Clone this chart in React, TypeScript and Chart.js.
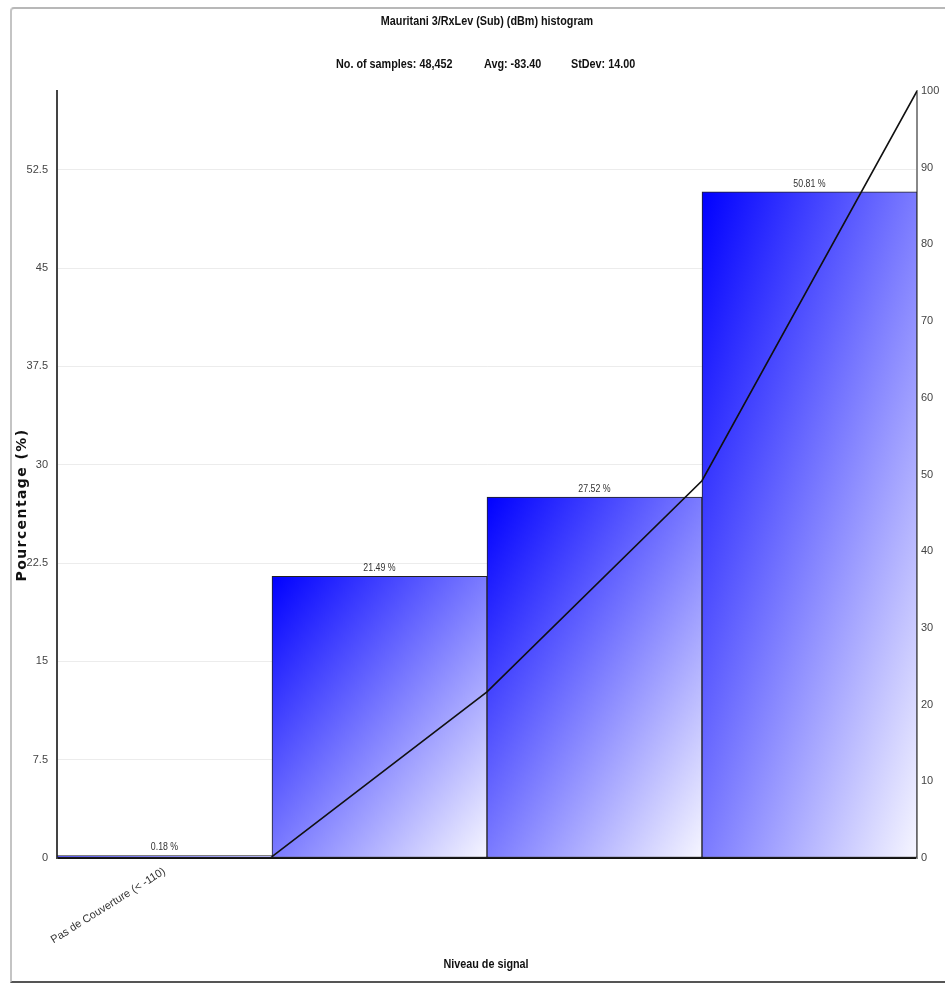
import React, { useEffect, useRef } from "react";
import { Chart, registerables } from "chart.js";

Chart.register(...registerables);

const categories = ["Pas de Couverture (< -110)", "", "", ""];
const percentages = [0.18, 21.49, 27.52, 50.81];
const barLabels = ["0.18 %", "21.49 %", "27.52 %", "50.81 %"];
const cumulativeX = [1, 2, 3, 4];
const cumulativeY = [0.18, 21.67, 49.19, 100];
const leftTicksStep = 7.5;
const leftMax = 58.5;
const rightTicksStep = 10;

const titleText = "Mauritani 3/RxLev (Sub) (dBm) histogram";
const statsTexts = ["No. of samples: 48,452", "Avg: -83.40", "StDev: 14.00"];
const yTitle = "Pourcentage (%)";
const xTitle = "Niveau de signal";

const SANS = "'Liberation Sans', Arial, sans-serif";

export default function App() {
  const ref = useRef<HTMLCanvasElement | null>(null);

  useEffect(() => {
    const canvas = ref.current;
    if (!canvas) return;

    const drawNarrow = (ctx: any, text: string, x: number, y: number, align: string, sx: number) => {
      ctx.save();
      ctx.translate(x, y);
      ctx.scale(sx, 1);
      ctx.textAlign = align;
      ctx.fillText(text, 0, 0);
      ctx.restore();
    };

    const textPlugin = {
      id: "texts",
      afterDatasetsDraw(chart: any) {
        const ctx = chart.ctx;
        const xs = chart.scales.x;
        const ys = chart.scales.y;
        ctx.save();
        ctx.font = `10px ${SANS}`;
        ctx.fillStyle = "#333";
        ctx.textBaseline = "bottom";
        percentages.forEach((v, i) => {
          const x = xs.getPixelForValue(i);
          const y = ys.getPixelForValue(v);
          drawNarrow(ctx, barLabels[i], x, y - 3, "center", 0.88);
        });
        ctx.restore();
      },
      afterDraw(chart: any) {
        const ctx = chart.ctx;
        ctx.save();
        ctx.fillStyle = "#111";
        ctx.textBaseline = "middle";
        ctx.font = `bold 12px ${SANS}`;
        drawNarrow(ctx, titleText, 487, 22, "center", 0.9);
        drawNarrow(ctx, statsTexts[0], 336, 65, "left", 0.9);
        drawNarrow(ctx, statsTexts[1], 484, 65, "left", 0.9);
        drawNarrow(ctx, statsTexts[2], 571, 65, "left", 0.9);
        drawNarrow(ctx, xTitle, 486, 965, "center", 0.9);
        ctx.translate(22, 505);
        ctx.rotate(-Math.PI / 2);
        ctx.font = `bold 14px 'DejaVu Sans', sans-serif`;
        ctx.letterSpacing = "1.4px";
        ctx.textAlign = "center";
        ctx.fillText(yTitle, 0, 0);
        ctx.restore();
      },
    };

    const barBg = (c: any) => {
      const chart = c.chart;
      const xs = chart.scales.x;
      const ys = chart.scales.y;
      if (!chart.chartArea || !xs || !ys || c.type !== "data") return "#4444ff";
      const i = c.dataIndex;
      const half = (xs.right - xs.left) / categories.length / 2;
      const cx = xs.getPixelForValue(i);
      const top = ys.getPixelForValue(percentages[i]);
      const bottom = ys.getPixelForValue(0);
      const left = cx - half;
      const w = Math.max(1, Math.round(half * 2));
      const h = Math.max(1, Math.round(bottom - top));
      const off = document.createElement("canvas");
      off.width = w;
      off.height = h;
      const octx = off.getContext("2d") as CanvasRenderingContext2D;
      octx.setTransform(w, 0, 0, h, 0, 0);
      const g = octx.createLinearGradient(0, 0, 1, 1);
      g.addColorStop(0, "#0000ff");
      g.addColorStop(1, "#f6f6ff");
      octx.fillStyle = g;
      octx.fillRect(0, 0, 1, 1);
      const pat = chart.ctx.createPattern(off, "no-repeat") as CanvasPattern;
      pat.setTransform(new DOMMatrix([1, 0, 0, 1, left, top]));
      return pat;
    };

    const chart = new Chart(canvas, {
      type: "bar",
      data: {
        labels: categories,
        datasets: [
          {
            type: "line",
            data: cumulativeX.map((x, i) => ({ x, y: cumulativeY[i] })),
            xAxisID: "x2",
            yAxisID: "y1",
            borderColor: "#111",
            borderWidth: 1.6,
            pointRadius: 0,
            tension: 0,
            order: 0,
          } as any,
          {
            type: "bar",
            data: percentages,
            xAxisID: "x",
            yAxisID: "y",
            backgroundColor: barBg,
            borderColor: "#222",
            borderWidth: 1,
            borderSkipped: false,
            barPercentage: 1,
            categoryPercentage: 1,
            grouped: false,
            order: 1,
          } as any,
        ],
      },
      options: {
        responsive: false,
        animation: false,
        layout: { padding: { top: 91, left: 0, right: 0, bottom: 0 } },
        plugins: {
          legend: { display: false },
          tooltip: { enabled: false },
          title: { display: false },
        },
        scales: {
          x: {
            type: "category",
            offset: true,
            grid: { display: false, drawTicks: false },
            border: { display: true, color: "#111", width: 2 },
            ticks: {
              color: "#333",
              font: { family: SANS, size: 11 },
              minRotation: 32,
              maxRotation: 32,
              padding: 7,
              autoSkip: false,
            },
            afterFit: (s: any) => {
              s.height = 128;
            },
          },
          x2: {
            type: "linear",
            min: 0,
            max: 4,
            offset: false,
            display: false,
          },
          y: {
            type: "linear",
            position: "left",
            min: 0,
            max: leftMax,
            z: 1,
            ticks: {
              stepSize: leftTicksStep,
              color: "#444",
              font: { family: SANS, size: 11 },
              padding: 9,
            },
            afterBuildTicks: (s: any) => {
              s.ticks = s.ticks.filter((t: any) => {
                const r = t.value / leftTicksStep;
                return Math.abs(r - Math.round(r)) < 1e-6;
              });
            },
            grid: { color: "rgba(200,200,200,0.35)", drawTicks: false },
            border: { display: true, color: "#444", width: 2 },
            afterFit: (s: any) => {
              s.width = 57;
            },
          },
          y1: {
            type: "linear",
            position: "right",
            min: 0,
            max: 100,
            ticks: {
              stepSize: rightTicksStep,
              color: "#444",
              font: { family: SANS, size: 11 },
              padding: 4,
            },
            grid: { display: false, drawTicks: false },
            border: { display: true, color: "#888", width: 2 },
            afterFit: (s: any) => {
              s.width = 28;
            },
          },
        },
      },
      plugins: [textPlugin],
    });

    return () => chart.destroy();
  }, []);

  return (
    <div style={{ position: "absolute", left: 0, top: 0, width: 945, height: 986, background: "#fff", overflow: "hidden" }}>
      <div
        style={{
          position: "absolute",
          left: 10,
          top: 7,
          width: 960,
          height: 976,
          borderLeft: "2px solid #c4c4c4",
          borderTop: "2px solid #b8b8b8",
          borderBottom: "2px solid #555",
          borderTopLeftRadius: 4,
          boxSizing: "border-box",
        }}
      />
      <canvas ref={ref} width={945} height={986} style={{ position: "absolute", left: 0, top: 0 }} />
    </div>
  );
}
